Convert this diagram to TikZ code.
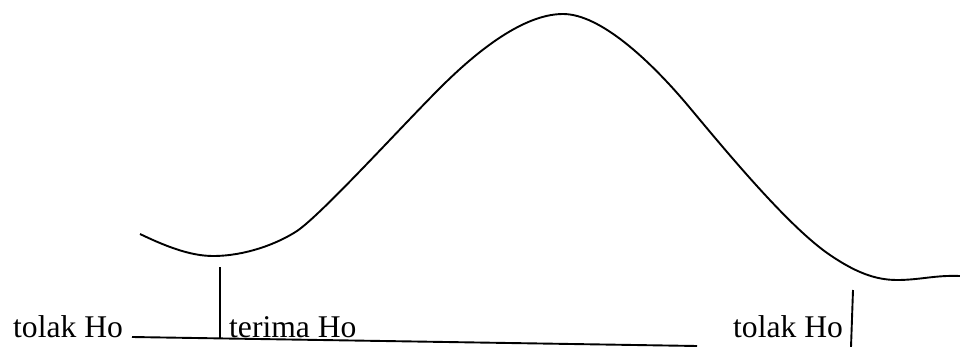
\documentclass[tikz,border=0pt]{standalone}
\usepackage{fontspec}
\setmainfont{Liberation Serif}
\begin{document}
\begin{tikzpicture}[x=1pt,y=-1pt,
  lbl/.style={anchor=base west,inner sep=0pt,font=\fontsize{31.6}{36}\selectfont},
  ln/.style={line width=1.9pt,line cap=butt}]
\useasboundingbox (0,0) rectangle (960,347);
\draw[ln] (140,234) .. controls (165,246) and (190,256) .. (213,256)
  .. controls (245,256) and (277,244) .. (297,231)
  .. controls (322,214) and (400,128) .. (440,88)
  .. controls (470,58) and (520,14) .. (563,14)
  .. controls (600,14) and (650,60) .. (690,108)
  .. controls (730,156) and (790,228) .. (830,255)
  .. controls (855,272) and (875,280) .. (897,280)
  .. controls (920,280) and (935,275) .. (960,276);
\node[lbl] (t1) at (13,337) {tolak Ho};
\node[lbl] (t2) at (229,337) {terima Ho};
\node[lbl] (t3) at (733,337) {tolak Ho};
\coordinate (b1) at (132,337);
\coordinate (b2) at (697,346);
\coordinate (v1a) at (220,267);
\coordinate (v1b) at (220,338);
\coordinate (v2a) at (853,290);
\coordinate (v2b) at (851,347);
\draw[ln] (b1) -- (b2);
\draw[ln] (v1a) -- (v1b);
\draw[ln] (v2a) -- (v2b);
\end{tikzpicture}
\end{document}
